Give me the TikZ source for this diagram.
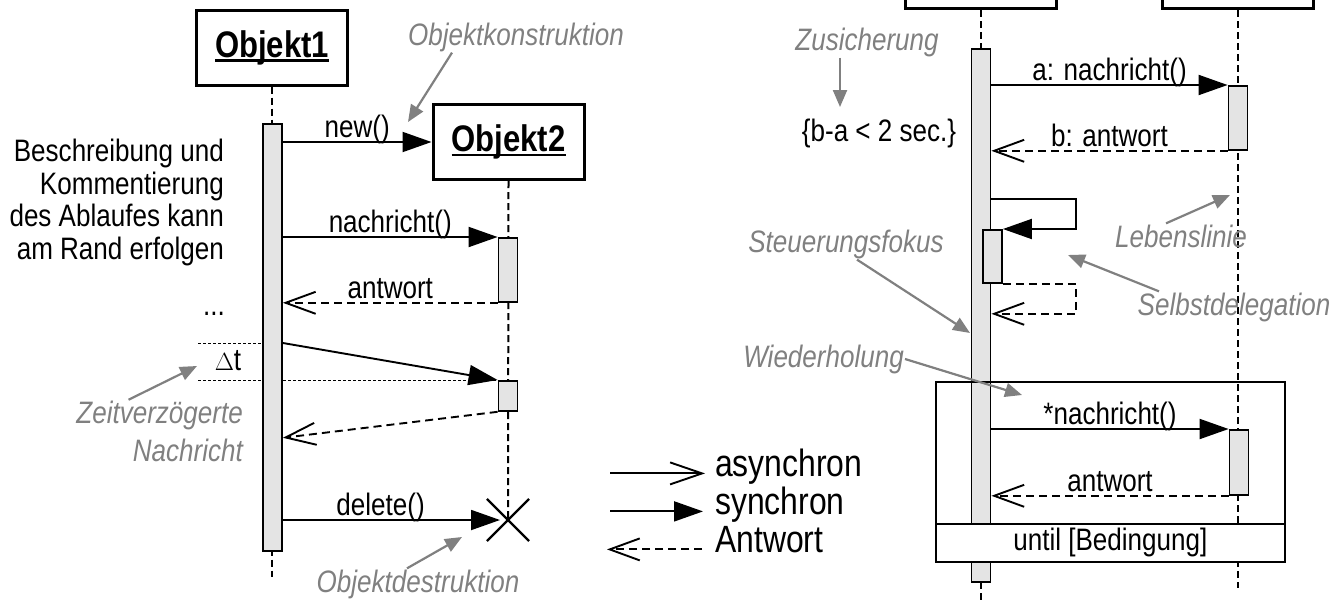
\documentclass[tikz,border=0pt]{standalone}
\usepackage{fontspec}
\setmainfont{Liberation Sans}[FakeStretch=0.84]
\usepackage{tikz}
\usetikzlibrary{positioning}
\usetikzlibrary{arrows.meta}
\usetikzlibrary{shapes.misc}
\usetikzlibrary{calc}

\definecolor{notegray}{RGB}{128,128,128}
\definecolor{focusgray}{RGB}{228,228,228}

\newcommand{\ulname}[1]{\setbox0\hbox{#1}\rlap{\rule[-4.5pt]{\wd0}{2.4pt}}\box0}

\tikzset{
  obj/.style={draw, line width=3pt, minimum width=151pt, minimum height=75pt, inner sep=0pt, font=\fontsize{37}{40}\selectfont\bfseries},
  lifeline/.style={line width=2pt, dash pattern=on 7pt off 4pt},
  focus/.style={draw, fill=focusgray, line width=1.8pt, minimum width=19pt, inner sep=0pt, anchor=north},
  msg/.style={line width=1.9pt},
  sync/.style={msg, -{Triangle[length=29pt,width=20pt]}},
  async/.style={msg, -{Straight Barb[length=32pt,width=22pt]}},
  reply/.style={msg, dash pattern=on 8pt off 5pt, -{Straight Barb[length=30pt,width=22pt]}},
  lbl/.style={font=\fontsize{31}{32.7}\selectfont, inner sep=1pt, text depth=.22em},
  remark/.style={font=\fontsize{31}{32.7}\selectfont, inner sep=0pt},
  legend/.style={font=\fontsize{38}{40}\selectfont, inner sep=0pt, text height=.73em, text depth=.21em},
  note/.style={font=\fontsize{31}{38}\selectfont\itshape, text=notegray, inner sep=1pt},
  pointer/.style={draw=notegray, line width=2.2pt, -{Triangle[length=17pt,width=14pt]}},
  timeline/.style={line width=0.9pt, dash pattern=on 3pt off 2pt}
}

\begin{document}
\begin{tikzpicture}[x=1pt,y=-1pt]
\useasboundingbox (0,0) rectangle (1340,600);
\clip (0,0) rectangle (1340,600);

% left diagram
\node[obj] (o1) at (272,47.5) {\ulname{Objekt1}};
\node[obj] (o2) at (508.5,142) {\ulname{Objekt2}};
\node[draw, cross out, line width=2.2pt, minimum size=40pt] (x2) at (508,520) {};
\coordinate (o1end) at (272,577);
\draw[lifeline] (o1.south) -- (o1end);
\draw[lifeline] (o2.south) -- (x2.center);

\coordinate (t0) at (198,343);
\coordinate (t1) at (198,380);
\draw[timeline] (t0) -- (t0 -| 263,0);
\draw[timeline] (t1) -- (t1 -| 499,0);

\node[focus, minimum height=427pt] (f1) at (272.5,123) {};
\node[focus, minimum height=64pt] (f2) at (508,237) {};
\node[focus, minimum height=30pt] (f3) at (508,380) {};

\draw[sync] (f1.east |- o2) -- (o2.west) node[lbl, midway, above] {new()};
\draw[sync] (f1.east |- f2.north) -- (f2.north west) node[lbl, midway, above] {nachricht()};
\draw[reply] (f2.south west) -- (f1.east |- f2.south) node[lbl, midway, above] {antwort};
\draw[sync] (f1.east |- t0) -- (f3.north west);
\draw[reply] (f3.south west) -- ($(f1.east |- f3.south)+(0,26)$);
\draw[sync] (f1.east |- x2) -- ([xshift=-8pt]x2.center) node[lbl, pos=.45, above] {delete()};

\node[remark, align=right, anchor=east] (desc) at (224,202.6) {Beschreibung und\\Kommentierung\\des Ablaufes kann\\am Rand erfolgen};
\node[remark, anchor=base] (dots) at (214,315) {...};
\node[remark, anchor=base] (dt) at (228,370) {$\Delta$t};

% legend
\node[legend, anchor=base west] (lasync) at (715,476) {asynchron};
\node[legend, anchor=base west] (lsync) at (715,514) {synchron};
\node[legend, anchor=base west] (lreply) at (715,552) {Antwort};
\draw[async] ([xshift=-105pt]lasync.west) -- ([xshift=-10pt]lasync.west);
\draw[sync] ([xshift=-105pt]lsync.west) -- ([xshift=-12pt]lsync.west);
\draw[reply] ([xshift=-13pt]lreply.west) -- ([xshift=-108pt]lreply.west);

% right diagram
\node[obj, anchor=south] (r1) at (981,10) {};
\node[obj, anchor=south] (r2) at (1238,10) {};
\coordinate (r1end) at (981,600);
\coordinate (r2end) at (1238,588);
\draw[lifeline] (r1.south) -- (r1end);
\draw[lifeline] (r2.south) -- (r2end);

\node[focus, minimum height=533pt] (g1) at (981,48) {};
\node[focus, minimum height=64pt] (g2) at (1238,85) {};
\node[focus, minimum height=53pt] (g3) at (992.5,229) {};
\node[focus, minimum height=65pt] (g4) at (1239,429) {};

\draw[sync] (g1.east |- g2.north) -- (g2.north west) node[lbl, midway, above] {a: nachricht()};
\draw[reply] (g2.south west) -- (g1.east |- g2.south) node[lbl, midway, above] {b: antwort};
\draw[sync] ($(g1.east |- g3.north)+(0,-30)$) -| ($(g3.north east)+(73,0)$) -- (g3.north east);
\draw[reply] (g3.south east) -| ($(g3.south east)+(73,30)$) -- ($(g1.east |- g3.south)+(0,30)$);

\node[draw, line width=1.8pt, minimum width=349pt, minimum height=180pt, inner sep=0pt, anchor=north west] (loop) at (935,381) {};
\node[draw, fill=white, line width=1.8pt, minimum width=349pt, minimum height=38pt, inner sep=0pt, anchor=south west, font=\fontsize{31}{32}\selectfont] (until) at (loop.south west) {until [Bedingung]};
\draw[sync] (g1.east |- g4.north) -- (g4.north west) node[lbl, midway, above] {*nachricht()};
\draw[reply] (g4.south west) -- (g1.east |- g4.south) node[lbl, midway, above] {antwort};

\node[lbl, anchor=base] (cond) at (879,141) {\{b-a < 2 sec.\}};

% gray notes
\node[note, anchor=base] (okon) at (516,45) {Objektkonstruktion};
\node[note, align=right, anchor=east] (zv) at (244,431.3) {Zeitverzögerte\\Nachricht};
\node[note, anchor=base] (odes) at (418,592) {Objektdestruktion};
\node[note, anchor=base] (zus) at (867,50) {Zusicherung};
\node[note, anchor=base] (sf) at (846,252) {Steuerungsfokus};
\node[note, anchor=base] (ll) at (1181,247) {Lebenslinie};
\node[note, anchor=base] (sd) at (1234,315) {Selbstdelegation};
\node[note, anchor=base east] (wh) at (905,367) {Wiederholung};

\coordinate (okonTip) at (408,122);
\coordinate (zvTip) at (197,366);
\coordinate (odesTip) at (462,537);
\coordinate (zusTip) at (840,107);
\coordinate (sfTip) at (970,333);
\coordinate (llTip) at (1230,195);
\coordinate (sdTip) at (1068,255);
\coordinate (whTip) at (1022,395);

\draw[pointer] ([xshift=-64pt]okon.south) -- (okonTip);
\draw[pointer] ([xshift=-31pt]zv.north) -- (zvTip);
\draw[pointer] ([xshift=-11pt]odes.north) -- (odesTip);
\draw[pointer] ([xshift=-27pt]zus.south) -- (zusTip);
\draw[pointer] ([xshift=11pt]sf.south) -- (sfTip);
\draw[pointer] ([xshift=-15pt]ll.north) -- (llTip);
\draw[pointer] ([xshift=-75pt]sd.north) -- (sdTip);
\draw[pointer] (wh.east) -- (whTip);
\end{tikzpicture}
\end{document}
